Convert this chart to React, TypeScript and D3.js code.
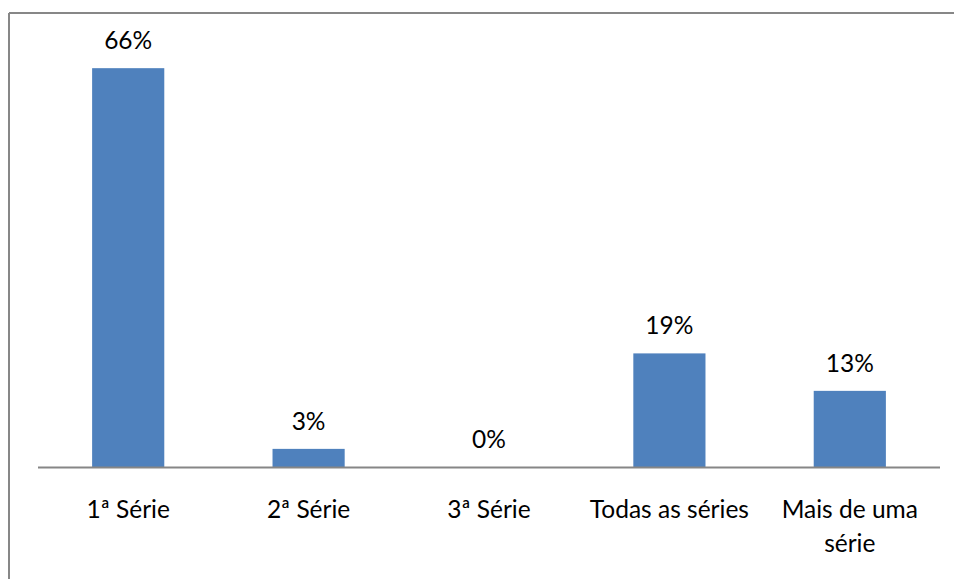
import React from "react";
import { scaleBand, scaleLinear, format } from "d3";

const width = 954;
const height = 579;
const margin = { top: 44, right: 14, bottom: 112, left: 38 };

// values (labels are rounded)
const categories = ["1ª Série", "2ª Série", "3ª Série", "Todas as séries", "Mais de uma série"];
const values = [0.66, 0.03, 0, 0.188, 0.126];
const tickLines = [["1ª Série"], ["2ª Série"], ["3ª Série"], ["Todas as séries"], ["Mais de uma", "série"]];

const fontFamily = "Lato, 'Open Sans', sans-serif";
const fontSize = 24.5;
const pct = format(".0%");

const App = () => {
  const x = scaleBand<string>()
    .domain(categories)
    .range([margin.left, width - margin.right])
    .paddingInner(0.6)
    .paddingOuter(0.3);

  const y = scaleLinear()
    .domain([0, 0.7])
    .range([height - margin.bottom, margin.top]);

  const baseY = y(0);

  return (
    <svg
      width={width}
      height={height}
      style={{ position: "absolute", left: 0, top: 0, background: "#fff" }}
      fontFamily={fontFamily}
    >
      {/* chart area border: only top and left edges are visible in the crop */}
      <line x1={9} y1={13} x2={width} y2={13} stroke="#878787" strokeWidth={2} />
      <line x1={9} y1={13} x2={9} y2={height} stroke="#878787" strokeWidth={2} />

      {values.map((v, i) => {
        const c = categories[i];
        const bx = x(c) ?? 0;
        return (
          <g key={c}>
            {v > 0 && (
              <rect
                x={bx}
                y={y(v)}
                width={x.bandwidth()}
                height={baseY - y(v)}
                fill="#4F81BD"
              />
            )}
            <text
              x={bx + x.bandwidth() / 2}
              y={y(v) - 19}
              textAnchor="middle"
              fontSize={fontSize}
              fill="#000"
            >
              {pct(v)}
            </text>
          </g>
        );
      })}

      <line
        x1={margin.left}
        x2={width - margin.right}
        y1={baseY + 0.5}
        y2={baseY + 0.5}
        stroke="#868686"
        strokeWidth={2}
      />

      {tickLines.map((lines, i) => {
        const cx = (x(categories[i]) ?? 0) + x.bandwidth() / 2;
        return (
          <text key={i} textAnchor="middle" fontSize={fontSize} fill="#000">
            {lines.map((l, j) => (
              <tspan key={j} x={cx} y={baseY + 51 + j * 34}>
                {l}
              </tspan>
            ))}
          </text>
        );
      })}
    </svg>
  );
};

export default App;
